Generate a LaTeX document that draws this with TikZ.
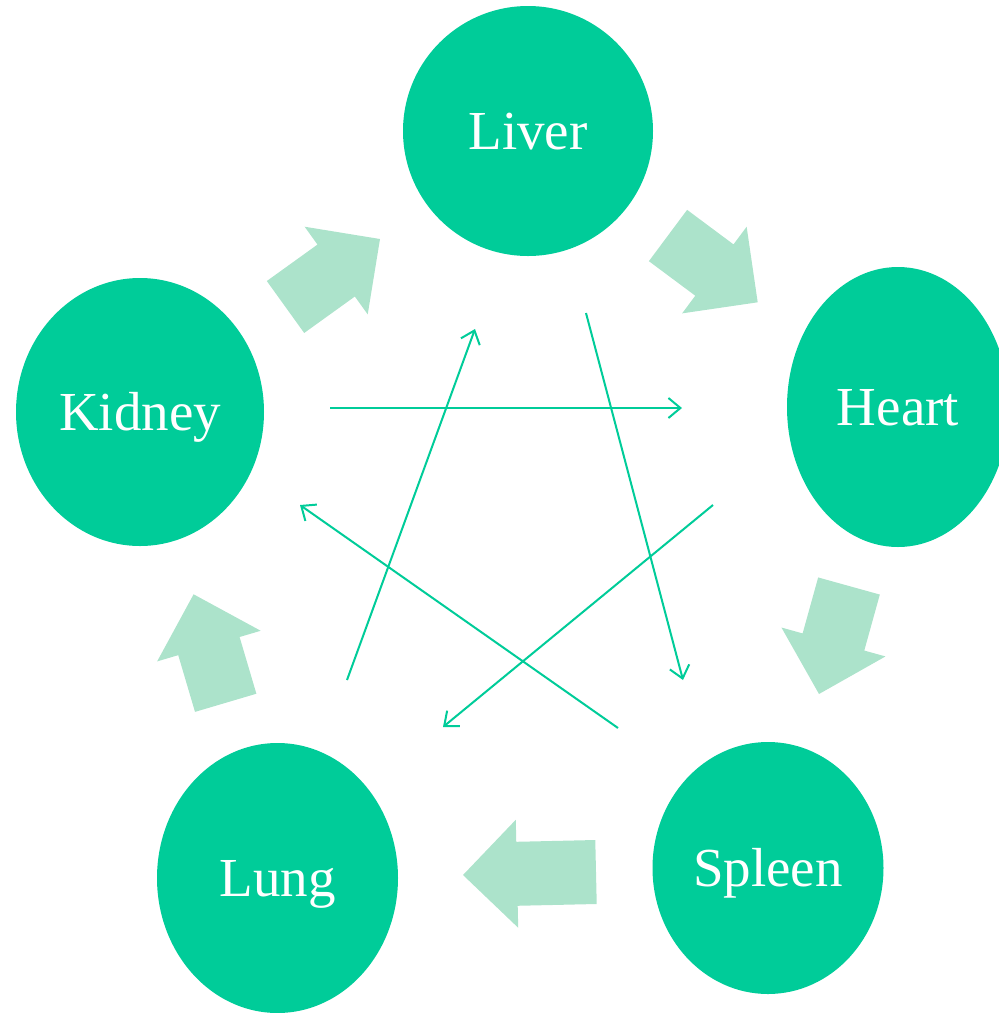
\documentclass[tikz,border=0pt]{standalone}
\usepackage{fontspec}
\setmainfont{Liberation Serif}
\usetikzlibrary{shapes.geometric,arrows.meta,calc}
\definecolor{organ}{RGB}{0,204,153}
\definecolor{flow}{RGB}{172,227,203}
\tikzset{
  organnode/.style={ellipse, fill=organ, text=white, inner sep=0pt,
    font=\fontsize{55}{60}\selectfont, text height=36pt, text depth=0pt},
  linkarrow/.style={draw=organ, line width=2pt,
    -{Straight Barb[length=12pt,width=20pt]}},
  flowfill/.style={fill=flow}
}
\newcommand\flowarrow[2]{%
  \coordinate (fa-base) at ($(#2)!54pt!(#1)$);
  \fill[flowfill] ($(#1)!32pt!90:(#2)$) -- ($(fa-base)!32pt!90:(#2)$)
    -- ($(fa-base)!54pt!90:(#2)$) -- (#2) -- ($(fa-base)!54pt!-90:(#2)$)
    -- ($(fa-base)!32pt!-90:(#2)$) -- ($(#1)!32pt!-90:(#2)$) -- cycle;
}
\begin{document}
\begin{tikzpicture}[x=1pt,y=-1pt]
\useasboundingbox (0,0) rectangle (999,1013);
\clip (0,0) rectangle (999,1013);

% organs
\node[organnode, minimum width=250pt, minimum height=250pt] (liver) at (528,131) {Liver};
\node[organnode, minimum width=222pt, minimum height=280pt] (heart) at (898,407) {Heart};
\node[organnode, minimum width=231pt, minimum height=252pt] (spleen) at (768,868) {Spleen};
\node[organnode, minimum width=241pt, minimum height=270pt] (lung) at (277.5,878) {Lung};
\node[organnode, minimum width=248pt, minimum height=268pt] (kidney) at (140,412) {Kidney};

% block arrows (generating cycle)
\coordinate (kl-tail) at (285.5,307);   \coordinate (kl-tip) at (380,239);
\coordinate (lh-tail) at (668,235.5);   \coordinate (lh-tip) at (757.7,302.3);
\coordinate (hs-tail) at (849,586);     \coordinate (hs-tip) at (819,694);
\coordinate (sl-tail) at (596,872);     \coordinate (sl-tip) at (463,875);
\coordinate (lk-tail) at (225.7,702.8); \coordinate (lk-tip) at (193.6,594.3);
\flowarrow{kl-tail}{kl-tip}
\flowarrow{lh-tail}{lh-tip}
\flowarrow{hs-tail}{hs-tip}
\flowarrow{sl-tail}{sl-tip}
\flowarrow{lk-tail}{lk-tip}

% thin arrows (star)
\coordinate (kh-a) at (330,408);   \coordinate (kh-b) at (682,408);
\coordinate (ls-a) at (586,313);   \coordinate (ls-b) at (683,680);
\coordinate (hl-a) at (713,505);   \coordinate (hl-b) at (443,727);
\coordinate (sk-a) at (618,728);   \coordinate (sk-b) at (300,505);
\coordinate (lv-a) at (347,680);   \coordinate (lv-b) at (475,329);
\draw[linkarrow] (kh-a) -- (kh-b);
\draw[linkarrow] (ls-a) -- (ls-b);
\draw[linkarrow] (hl-a) -- (hl-b);
\draw[linkarrow] (sk-a) -- (sk-b);
\draw[linkarrow] (lv-a) -- (lv-b);
\end{tikzpicture}
\end{document}
